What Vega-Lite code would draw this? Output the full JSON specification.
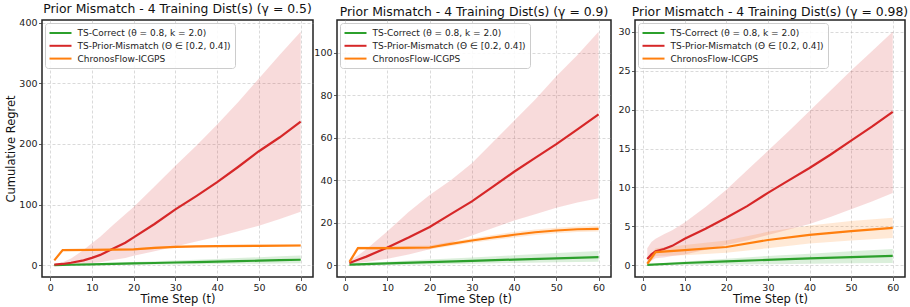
{
  "$schema": "https://vega.github.io/schema/vega-lite/v6.json",
  "padding": {"left": 5, "top": 2, "right": 0, "bottom": 0},
  "spacing": 24,
  "bounds": "flush",
  "datasets": {
    "p1": [
      {"s": "C", "t": 1, "m": 0.1, "lo": -0.7, "hi": 0.8},
      {"s": "C", "t": 5, "m": 0.7, "lo": -0.3, "hi": 1.8},
      {"s": "C", "t": 10, "m": 1.4, "lo": 0.1, "hi": 3},
      {"s": "C", "t": 15, "m": 2.1, "lo": 0.4, "hi": 4.2},
      {"s": "C", "t": 20, "m": 2.9, "lo": 0.7, "hi": 5.4},
      {"s": "C", "t": 25, "m": 3.6, "lo": 1, "hi": 6.6},
      {"s": "C", "t": 30, "m": 4.4, "lo": 1.3, "hi": 7.8},
      {"s": "C", "t": 35, "m": 5.1, "lo": 1.6, "hi": 9},
      {"s": "C", "t": 40, "m": 5.9, "lo": 1.9, "hi": 10.4},
      {"s": "C", "t": 45, "m": 6.6, "lo": 2.2, "hi": 11.8},
      {"s": "C", "t": 50, "m": 7.4, "lo": 2.5, "hi": 13.2},
      {"s": "C", "t": 55, "m": 8.2, "lo": 2.8, "hi": 14.6},
      {"s": "C", "t": 60, "m": 9.0, "lo": 3.1, "hi": 16},
      {"s": "M", "t": 1, "m": 1, "lo": 0, "hi": 1.5},
      {"s": "M", "t": 3, "m": 2, "lo": 0.3, "hi": 5},
      {"s": "M", "t": 5, "m": 4, "lo": 0.8, "hi": 11},
      {"s": "M", "t": 8, "m": 8, "lo": 2, "hi": 25},
      {"s": "M", "t": 10, "m": 12, "lo": 3.5, "hi": 36},
      {"s": "M", "t": 12, "m": 17, "lo": 5, "hi": 47},
      {"s": "M", "t": 15, "m": 27, "lo": 8.5, "hi": 66},
      {"s": "M", "t": 18, "m": 37, "lo": 12, "hi": 84},
      {"s": "M", "t": 20, "m": 46, "lo": 15.5, "hi": 96},
      {"s": "M", "t": 25, "m": 68, "lo": 23, "hi": 130},
      {"s": "M", "t": 30, "m": 92, "lo": 31, "hi": 164},
      {"s": "M", "t": 35, "m": 114, "lo": 39, "hi": 197},
      {"s": "M", "t": 40, "m": 137, "lo": 47, "hi": 232},
      {"s": "M", "t": 45, "m": 162, "lo": 56, "hi": 269},
      {"s": "M", "t": 50, "m": 188, "lo": 65, "hi": 308},
      {"s": "M", "t": 55, "m": 211, "lo": 76, "hi": 347},
      {"s": "M", "t": 60, "m": 237, "lo": 88, "hi": 385},
      {"s": "O", "t": 1, "m": 8, "lo": 6.5, "hi": 9.5},
      {"s": "O", "t": 3, "m": 25, "lo": 23.5, "hi": 26.5},
      {"s": "O", "t": 10, "m": 25.3, "lo": 23.8, "hi": 26.8},
      {"s": "O", "t": 15, "m": 25.6, "lo": 24, "hi": 27.2},
      {"s": "O", "t": 20, "m": 26.2, "lo": 24.5, "hi": 28},
      {"s": "O", "t": 25, "m": 28.5, "lo": 26.8, "hi": 30.3},
      {"s": "O", "t": 30, "m": 30.3, "lo": 28.5, "hi": 32.2},
      {"s": "O", "t": 35, "m": 31, "lo": 29.2, "hi": 33},
      {"s": "O", "t": 40, "m": 31.5, "lo": 29.6, "hi": 33.5},
      {"s": "O", "t": 50, "m": 32, "lo": 30, "hi": 34.2},
      {"s": "O", "t": 60, "m": 32.5, "lo": 30.3, "hi": 34.8}
    ],
    "p2": [
      {"s": "C", "t": 1, "m": 0.2, "lo": -0.4, "hi": 0.6},
      {"s": "C", "t": 10, "m": 0.8, "lo": 0, "hi": 1.6},
      {"s": "C", "t": 20, "m": 1.4, "lo": 0.3, "hi": 2.6},
      {"s": "C", "t": 30, "m": 2.0, "lo": 0.7, "hi": 3.6},
      {"s": "C", "t": 40, "m": 2.6, "lo": 1, "hi": 4.6},
      {"s": "C", "t": 50, "m": 3.2, "lo": 1.3, "hi": 5.7},
      {"s": "C", "t": 60, "m": 3.8, "lo": 1.6, "hi": 6.7},
      {"s": "M", "t": 1, "m": 1, "lo": 0.5, "hi": 2},
      {"s": "M", "t": 3, "m": 2.5, "lo": 1, "hi": 4.5},
      {"s": "M", "t": 5, "m": 4, "lo": 1.5, "hi": 7.5},
      {"s": "M", "t": 10, "m": 8.3, "lo": 3, "hi": 16},
      {"s": "M", "t": 15, "m": 13, "lo": 5, "hi": 25},
      {"s": "M", "t": 20, "m": 18, "lo": 7.5, "hi": 33},
      {"s": "M", "t": 25, "m": 24, "lo": 10.5, "hi": 40},
      {"s": "M", "t": 30, "m": 30, "lo": 14, "hi": 48},
      {"s": "M", "t": 35, "m": 37, "lo": 17.5, "hi": 58},
      {"s": "M", "t": 40, "m": 44, "lo": 21, "hi": 68},
      {"s": "M", "t": 45, "m": 50.5, "lo": 24, "hi": 78},
      {"s": "M", "t": 50, "m": 57, "lo": 27, "hi": 89},
      {"s": "M", "t": 55, "m": 64, "lo": 29.5, "hi": 99},
      {"s": "M", "t": 60, "m": 71, "lo": 31.5, "hi": 110},
      {"s": "O", "t": 1, "m": 1.5, "lo": 1, "hi": 2},
      {"s": "O", "t": 3, "m": 8, "lo": 7.2, "hi": 8.8},
      {"s": "O", "t": 10, "m": 8, "lo": 7.2, "hi": 8.8},
      {"s": "O", "t": 20, "m": 8.3, "lo": 7.4, "hi": 9.2},
      {"s": "O", "t": 25, "m": 10, "lo": 9, "hi": 11},
      {"s": "O", "t": 30, "m": 11.6, "lo": 10.5, "hi": 12.7},
      {"s": "O", "t": 35, "m": 13, "lo": 11.8, "hi": 14.2},
      {"s": "O", "t": 40, "m": 14.3, "lo": 13, "hi": 15.6},
      {"s": "O", "t": 45, "m": 15.5, "lo": 14.2, "hi": 16.8},
      {"s": "O", "t": 50, "m": 16.3, "lo": 15, "hi": 17.6},
      {"s": "O", "t": 55, "m": 16.9, "lo": 15.6, "hi": 18.2},
      {"s": "O", "t": 60, "m": 17.1, "lo": 15.8, "hi": 18.4}
    ],
    "p3": [
      {"s": "C", "t": 1, "m": 0.05, "lo": 0, "hi": 0.1},
      {"s": "C", "t": 10, "m": 0.3, "lo": 0.05, "hi": 0.5},
      {"s": "C", "t": 20, "m": 0.5, "lo": 0.1, "hi": 0.85},
      {"s": "C", "t": 30, "m": 0.7, "lo": 0.15, "hi": 1.2},
      {"s": "C", "t": 40, "m": 0.9, "lo": 0.2, "hi": 1.5},
      {"s": "C", "t": 50, "m": 1.05, "lo": 0.25, "hi": 1.8},
      {"s": "C", "t": 60, "m": 1.2, "lo": 0.3, "hi": 2.1},
      {"s": "M", "t": 1, "m": 0.8, "lo": 0.3, "hi": 2.2},
      {"s": "M", "t": 2, "m": 1.4, "lo": 0.6, "hi": 3},
      {"s": "M", "t": 3, "m": 1.8, "lo": 0.9, "hi": 3.4},
      {"s": "M", "t": 5, "m": 2.1, "lo": 1, "hi": 4},
      {"s": "M", "t": 7, "m": 2.5, "lo": 1.2, "hi": 4.5},
      {"s": "M", "t": 10, "m": 3.4, "lo": 1.4, "hi": 5.5},
      {"s": "M", "t": 15, "m": 4.7, "lo": 2, "hi": 7.5},
      {"s": "M", "t": 20, "m": 6.1, "lo": 2.6, "hi": 9.7},
      {"s": "M", "t": 25, "m": 7.6, "lo": 3.2, "hi": 12.2},
      {"s": "M", "t": 30, "m": 9.3, "lo": 3.9, "hi": 14.7},
      {"s": "M", "t": 35, "m": 10.9, "lo": 4.6, "hi": 17.2},
      {"s": "M", "t": 40, "m": 12.5, "lo": 5.3, "hi": 19.8},
      {"s": "M", "t": 45, "m": 14.2, "lo": 6.2, "hi": 22.4},
      {"s": "M", "t": 50, "m": 16, "lo": 7.2, "hi": 25},
      {"s": "M", "t": 55, "m": 17.8, "lo": 8.2, "hi": 27.5},
      {"s": "M", "t": 60, "m": 19.7, "lo": 9.3, "hi": 30},
      {"s": "O", "t": 1, "m": 0.2, "lo": 0.1, "hi": 0.4},
      {"s": "O", "t": 3, "m": 1.7, "lo": 1.2, "hi": 2.2},
      {"s": "O", "t": 10, "m": 1.95, "lo": 1.3, "hi": 2.6},
      {"s": "O", "t": 20, "m": 2.35, "lo": 1.6, "hi": 3.2},
      {"s": "O", "t": 30, "m": 3.25, "lo": 2.2, "hi": 4.3},
      {"s": "O", "t": 40, "m": 3.9, "lo": 2.8, "hi": 5.1},
      {"s": "O", "t": 50, "m": 4.4, "lo": 3.2, "hi": 5.7},
      {"s": "O", "t": 60, "m": 4.8, "lo": 3.5, "hi": 6.1}
    ]
  },
  "resolve": {
    "scale": {"x": "independent", "y": "independent", "fill": "independent", "stroke": "independent"},
    "legend": {"fill": "independent", "stroke": "independent"}
  },
  "hconcat": [
    {
      "width": 271, "height": 257,
      "title": "Prior Mismatch - 4 Training Dist(s) (γ = 0.5)",
      "data": {"name": "p1"},
      "encoding": {
        "x": {"field": "t", "type": "quantitative", "scale": {"domain": [-1.95, 62.95], "nice": false, "zero": false}, "axis": {"values": [0, 10, 20, 30, 40, 50, 60], "title": "Time Step (t)"}}
      },
      "layer": [
        {"mark": {"type": "area", "opacity": 0.17},
         "encoding": {
           "y": {"field": "lo", "type": "quantitative", "stack": null, "scale": {"domain": [-19.5, 404.5], "nice": false, "zero": false}, "axis": {"values": [0, 50, 100, 150, 200, 250, 300, 350, 400], "title": "Cumulative Regret"}},
           "y2": {"field": "hi"},
           "fill": {"field": "s", "type": "nominal", "scale": {"domain": ["M", "C", "O"], "range": ["#d62728", "#2ca02c", "#ff7f0e"]}, "legend": null}
         }},
        {"mark": {"type": "line", "strokeWidth": 2.2},
         "encoding": {
           "y": {"field": "m", "type": "quantitative"},
           "stroke": {"field": "s", "type": "nominal", "scale": {"domain": ["C", "M", "O"], "range": ["#2ca02c", "#d62728", "#ff7f0e"]},
             "legend": {"title": null, "labelExpr": "datum.label == 'C' ? 'TS-Correct (θ = 0.8, k = 2.0)' : datum.label == 'M' ? 'TS-Prior-Mismatch (Θ ∈ [0.2, 0.4])' : 'ChronosFlow-ICGPS'"}}
         }}
      ]
    },
    {
      "width": 274, "height": 257,
      "title": "Prior Mismatch - 4 Training Dist(s) (γ = 0.9)",
      "data": {"name": "p2"},
      "encoding": {
        "x": {"field": "t", "type": "quantitative", "scale": {"domain": [-1.95, 62.95], "nice": false, "zero": false}, "axis": {"values": [0, 10, 20, 30, 40, 50, 60], "title": "Time Step (t)"}}
      },
      "layer": [
        {"mark": {"type": "area", "opacity": 0.17},
         "encoding": {
           "y": {"field": "lo", "type": "quantitative", "stack": null, "scale": {"domain": [-5.6, 115.5], "nice": false, "zero": false}, "axis": {"values": [0, 20, 40, 60, 80, 100], "title": null}},
           "y2": {"field": "hi"},
           "fill": {"field": "s", "type": "nominal", "scale": {"domain": ["M", "C", "O"], "range": ["#d62728", "#2ca02c", "#ff7f0e"]}, "legend": null}
         }},
        {"mark": {"type": "line", "strokeWidth": 2.2},
         "encoding": {
           "y": {"field": "m", "type": "quantitative"},
           "stroke": {"field": "s", "type": "nominal", "scale": {"domain": ["C", "M", "O"], "range": ["#2ca02c", "#d62728", "#ff7f0e"]},
             "legend": {"title": null, "labelExpr": "datum.label == 'C' ? 'TS-Correct (θ = 0.8, k = 2.0)' : datum.label == 'M' ? 'TS-Prior-Mismatch (Θ ∈ [0.2, 0.4])' : 'ChronosFlow-ICGPS'"}}
         }}
      ]
    },
    {
      "width": 270, "height": 257,
      "title": "Prior Mismatch - 4 Training Dist(s) (γ = 0.98)",
      "data": {"name": "p3"},
      "encoding": {
        "x": {"field": "t", "type": "quantitative", "scale": {"domain": [-1.95, 62.95], "nice": false, "zero": false}, "axis": {"values": [0, 10, 20, 30, 40, 50, 60], "title": "Time Step (t)"}}
      },
      "layer": [
        {"mark": {"type": "area", "opacity": 0.17},
         "encoding": {
           "y": {"field": "lo", "type": "quantitative", "stack": null, "scale": {"domain": [-1.5, 31.5], "nice": false, "zero": false}, "axis": {"values": [0, 5, 10, 15, 20, 25, 30], "title": null}},
           "y2": {"field": "hi"},
           "fill": {"field": "s", "type": "nominal", "scale": {"domain": ["M", "C", "O"], "range": ["#d62728", "#2ca02c", "#ff7f0e"]}, "legend": null}
         }},
        {"mark": {"type": "line", "strokeWidth": 2.2},
         "encoding": {
           "y": {"field": "m", "type": "quantitative"},
           "stroke": {"field": "s", "type": "nominal", "scale": {"domain": ["C", "M", "O"], "range": ["#2ca02c", "#d62728", "#ff7f0e"]},
             "legend": {"title": null, "labelExpr": "datum.label == 'C' ? 'TS-Correct (θ = 0.8, k = 2.0)' : datum.label == 'M' ? 'TS-Prior-Mismatch (Θ ∈ [0.2, 0.4])' : 'ChronosFlow-ICGPS'"}}
         }}
      ]
    }
  ],
  "config": {
    "font": "DejaVu Sans",
    "background": "white",
    "view": {"stroke": "#222", "strokeWidth": 1.5},
    "axis": {
      "domain": false, "grid": true, "gridColor": "#b0b0b0", "gridDash": [3, 2], "gridOpacity": 0.6, "gridWidth": 0.8,
      "tickColor": "#333", "tickSize": 3.5, "tickWidth": 0.8,
      "labelFontSize": 9.5, "labelColor": "#222", "labelPadding": 1.5,
      "titleFontSize": 11.5, "titleFontWeight": "normal", "titleColor": "#111", "titlePadding": 2
    },
    "title": {"fontSize": 12.4, "fontWeight": "normal", "anchor": "middle", "frame": "group", "offset": 2, "color": "#111"},
    "legend": {
      "orient": "top-left", "offset": 3, "padding": 3.5,
      "strokeColor": "#cccccc", "fillColor": "rgba(255,255,255,0.85)", "cornerRadius": 3,
      "symbolType": "M-1,0H3", "symbolSize": 121, "symbolStrokeWidth": 2, "symbolOpacity": 1,
      "labelFontSize": 9, "labelOffset": 16, "rowPadding": 0.8, "labelColor": "#222", "labelLimit": 400
    }
  }
}
